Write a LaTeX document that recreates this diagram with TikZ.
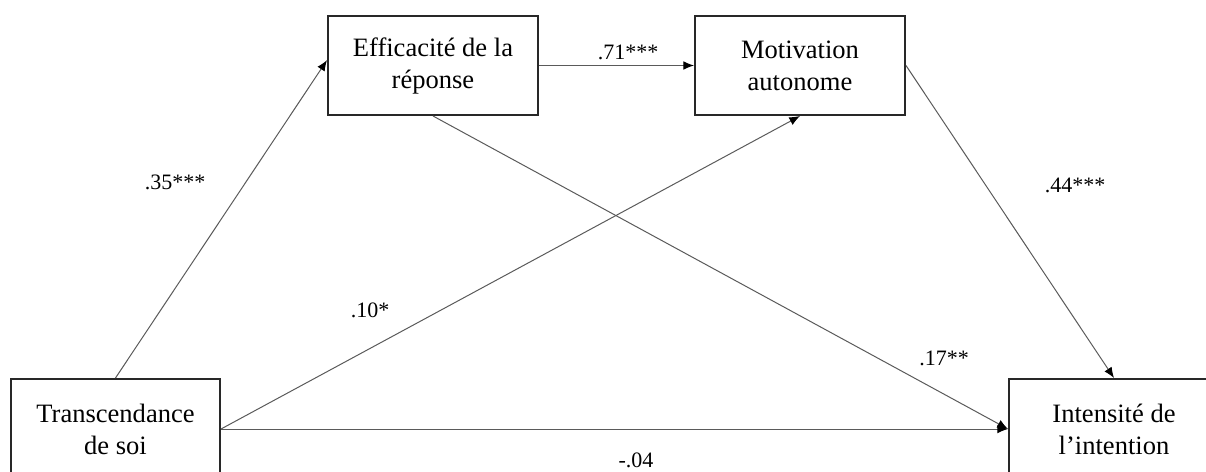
\documentclass[tikz,border=0pt]{standalone}
\usepackage{fontspec}
\setmainfont{Liberation Serif}
\usetikzlibrary{arrows.meta}

\tikzset{every picture/.style={line width=0.75pt}}
\tikzset{
	box/.style={draw={rgb, 255:red, 40; green, 40; blue, 40}, line width=1.5, rectangle, minimum width=157.5pt, minimum height=74.25pt, inner sep=0, align=center, font=\fontsize{19.9}{24}\selectfont},
	link/.style={draw={rgb, 255:red, 90; green, 90; blue, 90}, line width=0.75, -{Latex[length=8pt,width=6.5pt,black]}},
	coef/.style={font=\fontsize{16.5}{20}\selectfont, inner sep=0}
}

\begin{document}
\begin{tikzpicture}[x=0.75pt,y=0.75pt,yscale=-1,xscale=1]
	%set diagram size: 1206 x 471
	\useasboundingbox (0,0) rectangle (1206,471);
	\clip (0,0) rectangle (1206,471);

	%Shape: Rectangle [id:trans]
	\node [box, minimum width=156.75pt, minimum height=75pt] (trans) at (115.5,429) {Transcendance\\de soi};
	%Shape: Rectangle [id:effic]
	\node [box] (effic) at (433,65.5) {Efficacité de la\\réponse};
	%Shape: Rectangle [id:motiv]
	\node [box] (motiv) at (800,65.5) {Motivation\\autonome};
	%Shape: Rectangle [id:inten]
	\node [box, minimum height=75pt] (inten) at (1114,429) {Intensité de\\l’intention};

	%Straight Lines
	\draw [link] (trans.north) -- ([yshift=-4pt]effic.west);
	\draw [link] (effic.east) -- (motiv.west);
	\draw [link] (trans.east) -- (motiv.south);
	\draw [link] (effic.south) -- (inten.west);
	\draw [link] (motiv.east) -- (inten.north);
	\draw [link] (trans.east) -- (inten.west);

	% Text Node
	\node [coef] (c35) at (175,182) {.35***};
	% Text Node
	\node [coef] (c71) at (628,52) {.71***};
	% Text Node
	\node [coef] (c44) at (1075,185) {.44***};
	% Text Node
	\node [coef] (c10) at (370,310) {.10*};
	% Text Node
	\node [coef] (c17) at (944,358) {.17**};
	% Text Node
	\node [coef] (c04) at (636,460) {-.04};

\end{tikzpicture}
\end{document}
